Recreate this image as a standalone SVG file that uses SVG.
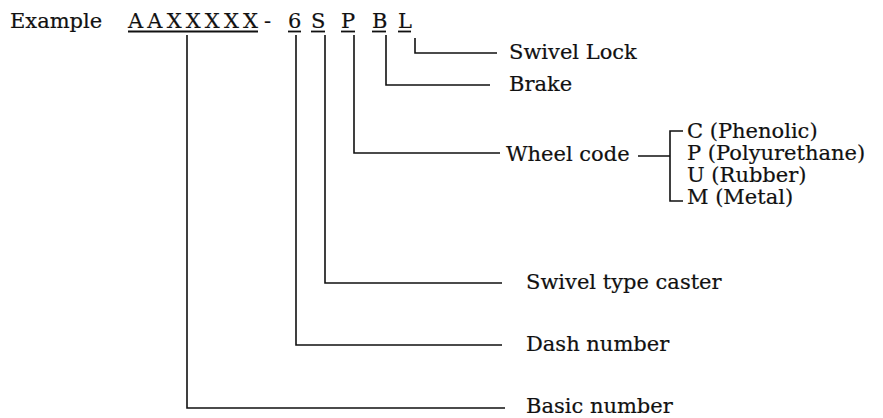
<svg xmlns="http://www.w3.org/2000/svg" width="883" height="418" viewBox="0 0 883 418">
<style>
text{font-family:"DejaVu Serif","Liberation Serif",serif;font-size:21px;fill:#111;stroke:#111;stroke-width:0.2}
.ln{stroke:#111;stroke-width:1.6;fill:none}
.ul{stroke:#111;stroke-width:1.8}
</style>
<rect width="883" height="418" fill="#fff"/>
<g id="code">
<text x="10" y="28">Example</text>
<text x="128" y="28" textLength="130" lengthAdjust="spacing">AAXXXXX</text>
<line class="ul" x1="128" y1="31.5" x2="258" y2="31.5"/>
<text x="264" y="28">-</text>
<text x="288" y="28">6</text>
<line class="ul" x1="288" y1="31.5" x2="301" y2="31.5"/>
<text x="311" y="28">S</text>
<line class="ul" x1="311" y1="31.5" x2="325" y2="31.5"/>
<text x="341" y="28">P</text>
<line class="ul" x1="341" y1="31.5" x2="355" y2="31.5"/>
<text x="372" y="28">B</text>
<line class="ul" x1="372" y1="31.5" x2="386" y2="31.5"/>
<text x="398" y="28">L</text>
<line class="ul" x1="398" y1="31.5" x2="411" y2="31.5"/>
</g>
<g id="connectors">
<path class="ln" d="M415 38V53H497"/>
<path class="ln" d="M386 35V85H490"/>
<path class="ln" d="M354 35V153H500"/>
<path class="ln" d="M325 35V283H502"/>
<path class="ln" d="M296 35V345H502"/>
<path class="ln" d="M187 35V408H505"/>
<path class="ln" d="M683 131H670V201H683M638 156H670"/>
</g>
<g id="swivel-lock"><text x="509" y="59">Swivel Lock</text></g>
<g id="brake"><text x="509" y="91">Brake</text></g>
<g id="wheel-code"><text x="506" y="161">Wheel code</text></g>
<g id="phenolic"><text x="687" y="138">C (Phenolic)</text></g>
<g id="polyurethane"><text x="687" y="160">P (Polyurethane)</text></g>
<g id="rubber"><text x="687" y="182">U (Rubber)</text></g>
<g id="metal"><text x="687" y="204">M (Metal)</text></g>
<g id="swivel-type"><text x="526" y="289">Swivel type caster</text></g>
<g id="dash-number"><text x="526" y="351">Dash number</text></g>
<g id="basic-number"><text x="526" y="413">Basic number</text></g>
</svg>
